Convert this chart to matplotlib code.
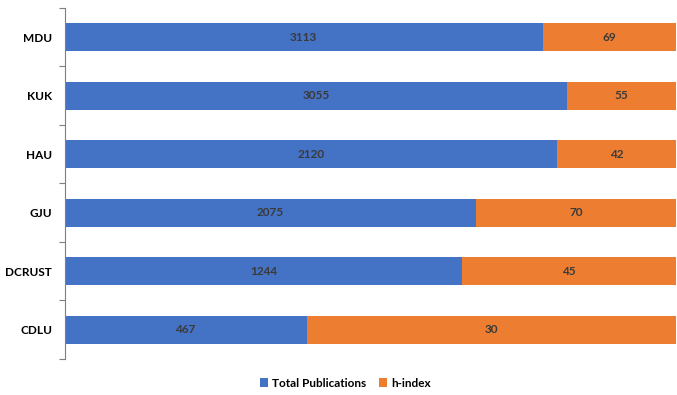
import matplotlib.pyplot as plt
import numpy as np

# universities, top to bottom
universities = ["MDU", "KUK", "HAU", "GJU", "DCRUST", "CDLU"]
total_publications = [3113, 3055, 2120, 2075, 1244, 467]
h_index = [69, 55, 42, 70, 45, 30]

# share of each bar (percent) as drawn in the original 100% stacked chart
pub_share = [78.3, 82.3, 80.6, 67.4, 65.1, 39.6]
h_share = [21.7, 17.7, 19.4, 32.6, 34.9, 60.4]

BLUE = "#4472C4"
ORANGE = "#ED7D31"
plt.rcParams["font.family"] = ["Lato", "DejaVu Sans"]

fig = plt.figure(figsize=(6.77, 3.95), dpi=100)
ax = fig.add_axes([0.0953, 0.0911, 0.9027, 0.889])

y = np.arange(len(universities))
ax.barh(y, pub_share, height=0.48, color=BLUE, label="Total Publications")
ax.barh(y, h_share, left=pub_share, height=0.48, color=ORANGE, label="h-index")

for i in range(len(universities)):
    ax.text(pub_share[i] / 2, y[i], str(total_publications[i]), ha="center",
            va="center", fontsize=8.5, fontweight="bold", color="#3a3a3a")
    ax.text(pub_share[i] + h_share[i] / 2, y[i], str(h_index[i]), ha="center",
            va="center", fontsize=8.5, fontweight="bold", color="#3a3a3a")

ax.set_xlim(0, 100)
ax.set_ylim(len(universities) - 0.5, -0.5)
ax.set_yticks(y)
ax.set_yticklabels(universities, fontsize=8.5, fontweight="bold")
ax.tick_params(axis="y", which="major", length=0, pad=9)
ax.set_yticks(np.arange(-0.5, len(universities)), minor=True)
ax.tick_params(axis="y", which="minor", length=4, color="#7f7f7f", width=0.8)
ax.set_xticks([])
for side in ["top", "right", "bottom"]:
    ax.spines[side].set_visible(False)
ax.spines["left"].set_color("#7f7f7f")
ax.spines["left"].set_linewidth(0.8)

leg = fig.legend(loc="center", bbox_to_anchor=(0.51, 0.03), ncol=2, frameon=False,
                 handlelength=0.7, handleheight=0.7, handletextpad=0.3,
                 columnspacing=1.1, prop={"weight": "bold", "size": 8.5})

fig.savefig("out.png", dpi=100)
